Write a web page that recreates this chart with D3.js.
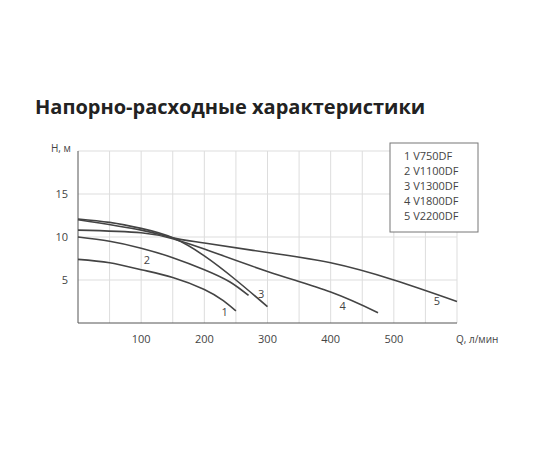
<!DOCTYPE html>
<html lang="en">
<head>
<meta charset="UTF-8">
<script src="https://d3js.org/d3.v7.min.js"></script>
<style>
  body { margin: 0; background: #fff; }
  text { font-family: "Open Sans", sans-serif; fill: #444; }
</style>
</head>
<body>
<svg width="550" height="450"></svg>
<script>
  const xTicks = [100, 200, 300, 400, 500];
  const yTicks = [5, 10, 15];
  const models = ['V750DF', 'V1100DF', 'V1300DF', 'V1800DF', 'V2200DF'];

  // Q (л/мин), H (м) per pump
  const q1 = [0, 50, 100, 150, 200, 230, 250];
  const h1 = [7.4, 7.0, 6.2, 5.3, 3.9, 2.6, 1.4];
  const q2 = [0, 50, 100, 150, 200, 240, 270];
  const h2 = [10.0, 9.5, 8.7, 7.6, 6.2, 4.8, 3.2];
  const q3 = [0, 50, 100, 150, 200, 250, 300];
  const h3 = [12.1, 11.7, 11.0, 9.9, 7.8, 5.0, 1.9];
  const q4 = [0, 100, 150, 200, 300, 400, 475];
  const h4 = [10.8, 10.5, 9.8, 8.6, 6.0, 3.6, 1.2];
  const q5 = [0, 100, 150, 200, 300, 400, 500, 600];
  const h5 = [12.0, 10.8, 9.9, 9.3, 8.2, 7.0, 5.0, 2.5];
  const labelQ = [232, 109, 290, 419, 568];
  const labelH = [1.3, 7.3, 3.4, 2.0, 2.6];

  const series = [[q1, h1], [q2, h2], [q3, h3], [q4, h4], [q5, h5]];

  const svg = d3.select('svg');
  const x = d3.scaleLinear().domain([0, 600]).range([78, 457]);
  const y = d3.scaleLinear().domain([0, 20]).range([323, 151]);

  svg.append('text').attr('x', 35).attr('y', 114)
    .style('font-size', '20px').style('font-weight', 'bold').style('fill', '#222')
    .text('Напорно-расходные характеристики');

  // grid
  svg.append('g').selectAll('line').data(d3.range(50, 601, 50)).enter().append('line')
    .attr('x1', d => x(d)).attr('x2', d => x(d)).attr('y1', y(0)).attr('y2', y(20))
    .style('stroke', '#ddd');
  svg.append('g').selectAll('line').data([5, 10, 15, 20]).enter().append('line')
    .attr('x1', x(0)).attr('x2', x(600)).attr('y1', d => y(d)).attr('y2', d => y(d))
    .style('stroke', '#ddd');

  svg.append('line').attr('x1', x(0)).attr('x2', x(600)).attr('y1', y(0)).attr('y2', y(0)).style('stroke', '#555');
  svg.append('line').attr('x1', x(0)).attr('x2', x(0)).attr('y1', y(0)).attr('y2', y(20)).style('stroke', '#555');

  svg.selectAll('.xt').data(xTicks).enter().append('text')
    .attr('x', d => x(d)).attr('y', y(0) + 20).attr('text-anchor', 'middle')
    .style('font-size', '11px').text(d => d);
  svg.selectAll('.yt').data(yTicks).enter().append('text')
    .attr('x', x(0) - 10).attr('y', d => y(d) + 4).attr('text-anchor', 'end')
    .style('font-size', '11px').text(d => d);
  svg.append('text').attr('x', 51).attr('y', 152).style('font-size', '10px').text('H, м');
  svg.append('text').attr('x', 456).attr('y', 343).style('font-size', '10px').text('Q, л/мин');

  const line = d3.line().x(d => x(d[0])).y(d => y(d[1])).curve(d3.curveNatural);
  series.forEach(([q, h]) => {
    svg.append('path').attr('d', line(q.map((v, i) => [v, h[i]])))
      .style('fill', 'none').style('stroke', '#444').style('stroke-width', 1.6);
  });

  svg.selectAll('.lbl').data(labelQ).enter().append('text')
    .attr('x', d => x(d)).attr('y', (d, i) => y(labelH[i]) + 4).attr('text-anchor', 'middle')
    .style('font-size', '11px').style('fill', '#444').text((d, i) => i + 1);

  // legend
  svg.append('rect').attr('x', 390).attr('y', 143).attr('width', 88).attr('height', 89)
    .style('fill', '#fff').style('stroke', '#777');
  svg.selectAll('.lg').data(models).enter().append('text')
    .attr('x', 404).attr('y', (d, i) => 160 + i * 15)
    .style('font-size', '11px').text((d, i) => (i + 1) + ' ' + d);
</script>
</body>
</html>
